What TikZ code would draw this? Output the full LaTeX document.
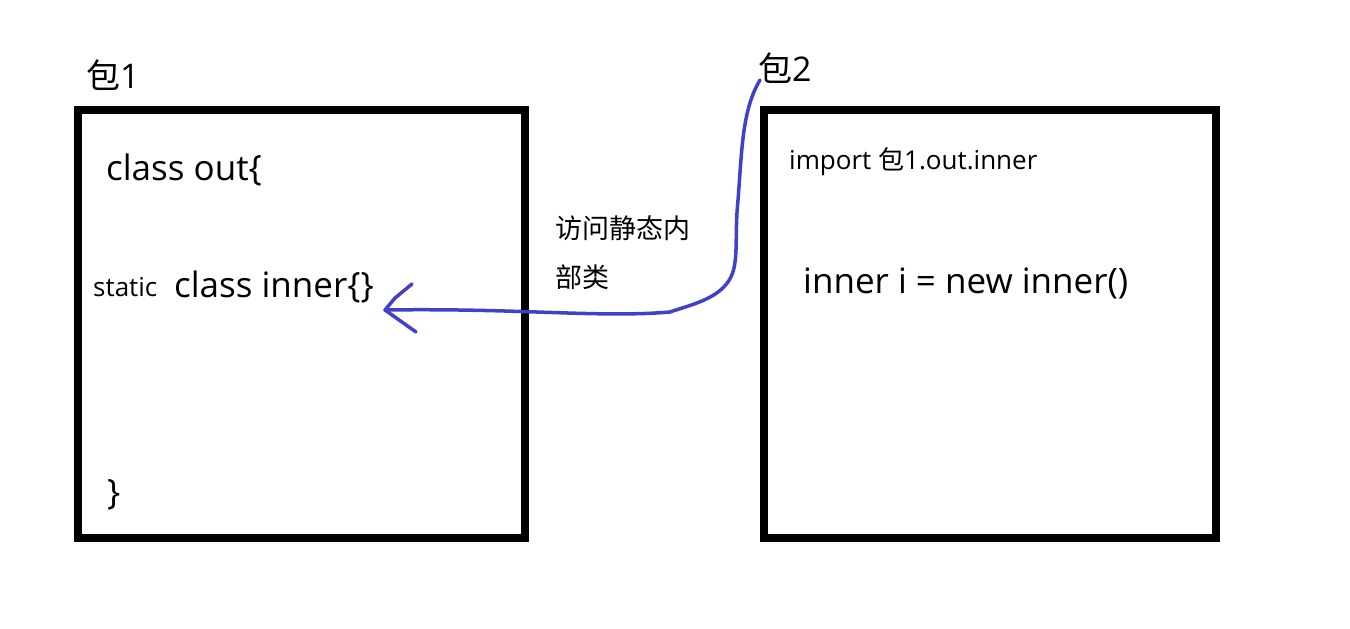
\documentclass[tikz,border=0pt]{standalone}
\usepackage{fontspec}
\setmainfont{Open Sans}
\newfontfamily\cjk{Noto Sans CJK SC}
\begin{document}
\begin{tikzpicture}[x=1pt,y=-1pt,
    pkgbox/.style={draw, line width=8pt},
    code/.style={anchor=west, inner sep=0pt, font=\fontsize{35}{38}\selectfont},
    small/.style={anchor=west, inner sep=0pt, font=\fontsize{26}{28}\selectfont},
    pen/.style={color={rgb,255:red,64;green,64;blue,200}, line width=3.5pt, line cap=round, line join=round}]
    \useasboundingbox (0,0) rectangle (1350,629);
    % packages
    \draw[pkgbox] (78,110) rectangle (525,538);
    \draw[pkgbox] (764,110) rectangle (1216,538);
    \node[code, font=\fontsize{34}{36}\selectfont] (p1) at (86,75) {\cjk 包\normalfont 1};
    \node[code, font=\fontsize{34}{36}\selectfont] (p2) at (758,68) {\cjk 包\normalfont 2};
    % left box
    \node[code] (out) at (106,170) {class out\{};
    \node[small] (static) at (93,287) {static};
    \node[code] (inner) at (174,287) {class inner\{\}};
    \node[code] (close) at (107,495) {\}};
    % right box
    \node[small] (imp) at (789,162) {import {\cjk 包}1.out.inner};
    \node[code] (newi) at (803,283) {inner i = new inner()};
    \node[small, align=left, font=\cjk\fontsize{27}{49}\selectfont] (note) at (555,253) {访问静态内\\部类};
    % hand drawn arrow
    \coordinate (tip) at (385,310);
    \draw[pen] (760,80) .. controls (742,110) and (742,150) .. (738,200)
        .. controls (734,240) and (740,265) .. (728,282)
        .. controls (715,300) and (690,305) .. (670,312)
        .. controls (600,318) and (520,308) .. (tip);
    \draw[pen] (412,284) -- (395,298) -- (tip) -- (416,332);
\end{tikzpicture}
\end{document}
